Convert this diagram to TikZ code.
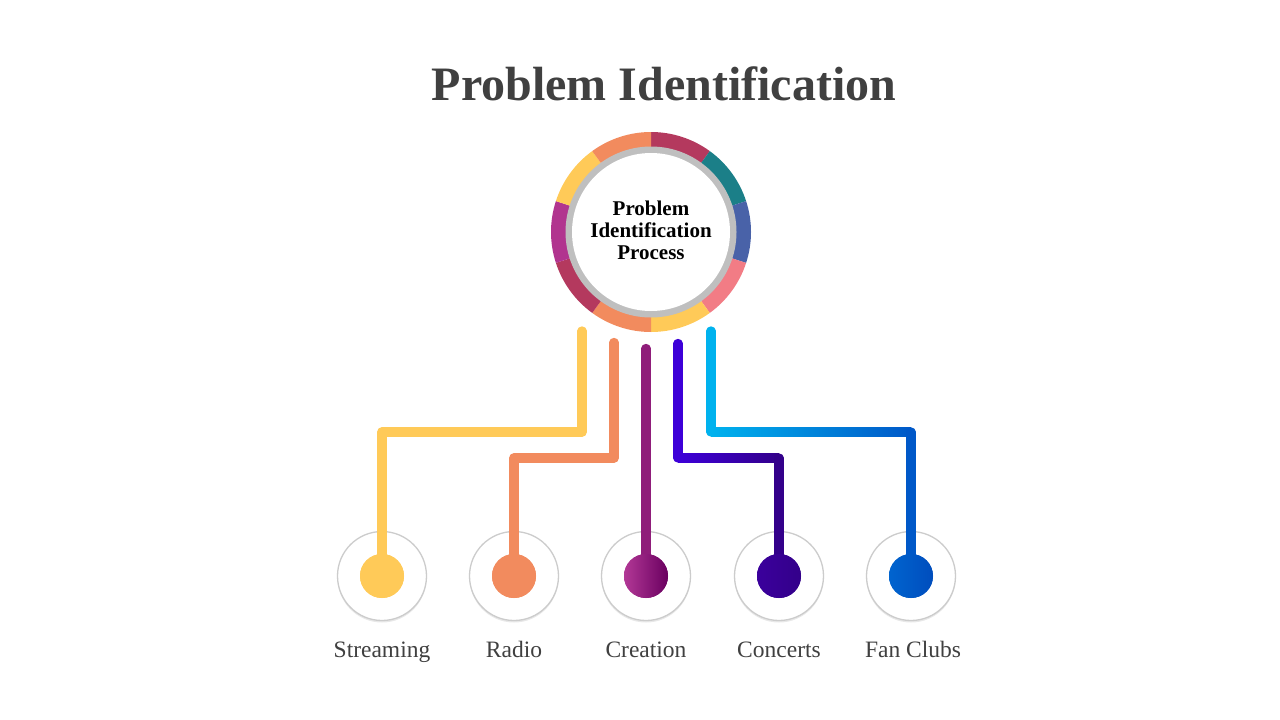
\documentclass[tikz,border=0pt]{standalone}
\usepackage{fontspec}
\setmainfont{Liberation Serif}
\usetikzlibrary{shadows}
\definecolor{txt}{HTML}{404040}
\definecolor{sYel}{HTML}{FFCA58}
\definecolor{sOra}{HTML}{F28B5E}
\definecolor{sCri}{HTML}{B4395E}
\definecolor{sTea}{HTML}{1B7F88}
\definecolor{sBlu}{HTML}{4962A8}
\definecolor{sPin}{HTML}{F27C85}
\definecolor{sMag}{HTML}{B1348F}
\definecolor{ringGray}{HTML}{BFBFBF}
\definecolor{crL}{HTML}{B23896}
\definecolor{crR}{HTML}{6A0060}
\definecolor{crLine}{HTML}{8F1D7A}
\definecolor{coL}{HTML}{3D00D8}
\definecolor{coR}{HTML}{33008A}
\definecolor{coDotL}{HTML}{3B009C}
\definecolor{fcL}{HTML}{00B2EE}
\definecolor{fcR}{HTML}{0058C8}
\definecolor{fcDotL}{HTML}{0064CF}
\definecolor{fcDotR}{HTML}{004DBD}
\tikzset{
  conn/.style={line width=9.3pt, line cap=round, line join=round},
  outerc/.style={circle, minimum size=89pt, inner sep=0pt, fill=white, draw=black!20, line width=1.3pt,
    drop shadow={opacity=0.18, shadow xshift=0pt, shadow yshift=-2pt}},
  dotc/.style={circle, minimum size=44pt, inner sep=0pt},
  lbl/.style={anchor=base, text=txt, font=\fontsize{23.5}{28}\selectfont},
}
\begin{document}
\begin{tikzpicture}[x=1pt,y=-1pt]
\useasboundingbox (0,0) rectangle (1280,720);
\fill[white] (0,0) rectangle (1280,720);

% title
\node[anchor=base, text=txt, font=\fontsize{48}{58}\selectfont\bfseries] (title) at (664,100) {Problem Identification};

% ring
\coordinate (ctr) at (651,232);
\foreach \a/\b/\c in {-90/-54/sCri, -54/-18/sTea, -18/18/sBlu, 18/54/sPin, 54/90/sYel,
                      90/126/sOra, 126/162/sCri, 162/198/sMag, 198/234/sYel, 234/270/sOra}{
  \fill[\c] ([shift={(\a:100)}]ctr) arc[start angle=\a, end angle=\b, radius=100]
     -- ([shift={(\b:85)}]ctr) arc[start angle=\b, end angle=\a, radius=85] -- cycle;
}
\fill[ringGray] (ctr) circle[radius=85.5];
\node[circle, fill=white, minimum size=158pt, inner sep=0pt] (hub) at (ctr) {};
\node[align=center, font=\fontsize{21}{22}\selectfont\bfseries] (hubtext) at (651,230)
      {Problem\\Identification\\Process};

% bottom circles
\foreach \i/\x in {1/382,2/514,3/646,4/779,5/911}{
  \node[outerc] (c\i) at (\x,576) {};
}
\node[dotc, fill=sYel] (d1) at (c1) {};
\node[dotc, fill=sOra] (d2) at (c2) {};
\node[dotc, left color=crL, right color=crR] (d3) at (c3) {};
\node[dotc, left color=coDotL, right color=coR] (d4) at (c4) {};
\node[dotc, left color=fcDotL, right color=fcDotR] (d5) at (c5) {};

% start coordinates and corners
\coordinate (s1) at (582,331);
\coordinate (s2) at (614,342.5);
\coordinate (s3) at (646,348.5);
\coordinate (s4) at (678,343.5);
\coordinate (s5) at (711,331);
\coordinate (k4a) at (678,458);
\coordinate (k4b) at (779,458);
\coordinate (k5a) at (711,432);
\coordinate (k5b) at (911,432);

% connectors
\draw[conn, sYel] (s1) -- (582,432) -| (d1.center);
\draw[conn, sOra] (s2) -- (614,458) -| (d2.center);
\draw[conn, crLine] (s3) -- (d3.center);
\draw[conn, coL] (s4) -- (k4a);
\shade[left color=coL, right color=coR] (678,453.35) rectangle (779,462.65);
\draw[conn, coR] (k4b) -- (d4.center);
\draw[conn, fcL] (s5) -- (k5a);
\shade[left color=fcL, right color=fcR] (711,427.35) rectangle (911,436.65);
\draw[conn, fcR] (k5b) -- (d5.center);
\fill[sYel] (d1) circle[radius=22];
\fill[sOra] (d2) circle[radius=22];
\shade[left color=crL, right color=crR] (d3) circle[radius=22];
\shade[left color=coDotL, right color=coR] (d4) circle[radius=22];
\shade[left color=fcDotL, right color=fcDotR] (d5) circle[radius=22];

% labels
\node[lbl] (l1) at (382,657) {Streaming};
\node[lbl] (l2) at (514,657) {Radio};
\node[lbl] (l3) at (646,657) {Creation};
\node[lbl] (l4) at (779,657) {Concerts};
\node[lbl] (l5) at (913,657) {Fan Clubs};
\end{tikzpicture}
\end{document}
